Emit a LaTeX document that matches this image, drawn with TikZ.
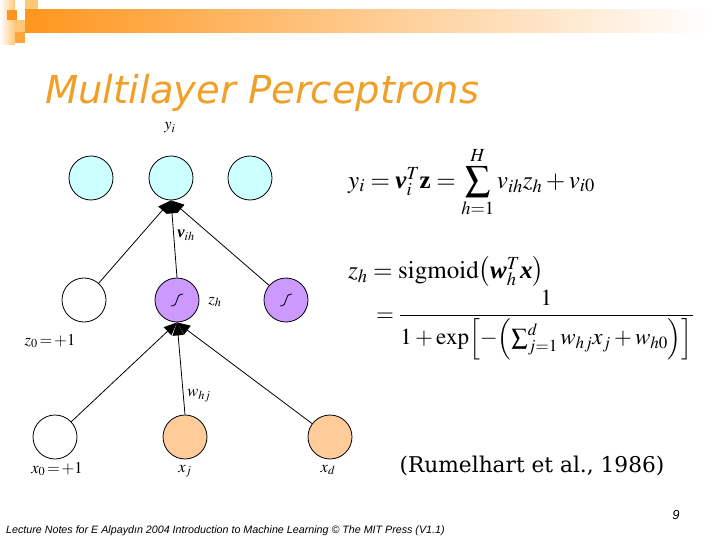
\documentclass[tikz,border=0pt]{standalone}
\usepackage{amsmath}
\usepackage{mathptmx}
\usepackage{fontspec}
\setmainfont{Liberation Serif}
\newfontfamily\titlefont{DejaVu Sans}
\newfontfamily\footfont{Liberation Sans}
\newfontfamily\citefont{DejaVu Serif}
\usetikzlibrary{arrows.meta}
\definecolor{hdrorange}{RGB}{255,150,30}
\definecolor{hdrlight}{RGB}{255,200,120}
\definecolor{titleorange}{RGB}{240,160,40}
\definecolor{outcol}{RGB}{204,255,255}
\definecolor{hidcol}{RGB}{204,153,255}
\definecolor{incol}{RGB}{255,204,153}
\newcommand{\bvec}[1]{\text{\bfseries\itshape #1}}
\newcommand{\bup}[1]{\text{\bfseries #1}}
\begin{document}
\begin{tikzpicture}[x=1pt,y=-1pt,
  unit/.style={circle,draw=black,line width=0.8pt,minimum size=44pt,inner sep=0pt},
  conn/.style={-{Triangle[length=13pt,width=11pt]},line width=0.8pt},
  lab/.style={font=\fontsize{16.5}{18}\selectfont,inner sep=0pt},
  eq/.style={font=\fontsize{25}{30}\selectfont,inner sep=0pt}]
\useasboundingbox (0,0) rectangle (720,540);
% header decoration
\shade[left color=white, right color=hdrlight] (0,0) rectangle (15,45);
\fill[hdrlight] (25,0) rectangle (38,10);
\shade[left color=hdrorange, right color=white] (25,10) rectangle (712,33);
\fill[hdrorange] (7,10) rectangle (17,20);
\fill[hdrlight] (15,20) rectangle (25,32);
\fill[hdrorange!85!white] (15,32) rectangle (25,43);
% title
\node[anchor=base west,inner sep=0pt,text=titleorange,font=\titlefont\itshape\fontsize{38.5}{44}\selectfont] (title) at (45,104) {Multilayer Perceptrons};
% units
\node[unit,fill=outcol] (o1) at (91,178) {};
\node[unit,fill=outcol] (o2) at (171,178) {};
\node[unit,fill=outcol] (o3) at (250,178) {};
\node[unit,fill=white] (h1) at (84,300) {};
\node[unit,fill=hidcol] (h2) at (177,300) {};
\node[unit,fill=hidcol] (h3) at (286,300) {};
\node[unit,fill=white] (i1) at (55,437) {};
\node[unit,fill=incol] (i2) at (185,437) {};
\node[unit,fill=incol] (i3) at (330,437) {};
% sigmoid glyphs
\foreach \n in {h2,h3}{
  \begin{scope}[shift={(\n.center)}]
    \draw[line width=0.8pt] (-6,6) .. controls (3,6) and (-3,-6) .. (6,-6);
  \end{scope}}
% connections
\draw[conn] (h1) -- (o2.south);
\draw[conn] (h2.north) -- (o2.south);
\draw[conn] (h3) -- (o2.south);
\draw[conn] (i1) -- (h2.south);
\draw[conn] (i2.north) -- (h2.south);
\draw[conn] (i3) -- (h2.south);
% labels
\node[lab] (ly) at (170,128) {$y_i$};
\node[lab] (lv) at (186,235) {$\bvec{v}_{ih}$};
\node[lab] (lz) at (215,302) {$z_h$};
\node[lab] (lz0) at (50,341) {$z_0\!=\!+1$};
\node[lab] (lw) at (199,396) {$w_{hj}$};
\node[lab] (lx0) at (57,469) {$x_0\!=\!+1$};
\node[lab] (lxj) at (185,471) {$x_j$};
\node[lab] (lxd) at (328,470) {$x_d$};
% equations
\node[eq,anchor=west] (eq1) at (348,182) {$y_i=\bvec{v}_i^T\bup{z}=\displaystyle\sum_{h=1}^{H}v_{ih}z_h+v_{i0}$};
\node[eq,anchor=west] (eq2) at (348,272) {$z_h=\mathrm{sigmoid}\bigl(\bvec{w}_h^T\bvec{x}\bigr)$};
\node[eq,anchor=west,font=\fontsize{23}{28}\selectfont] (eq3) at (376,325) {$=\dfrac{1}{1+\exp\Bigl[-\Bigl(\sum_{j=1}^{d}w_{hj}x_j+w_{h0}\Bigr)\Bigr]}$};
% citation
\node[inner sep=0pt,font=\citefont\fontsize{21.7}{26}\selectfont] (cite) at (532,466) {(Rumelhart et al., 1986)};
% footer
\node[anchor=base west,inner sep=0pt,font=\footfont\itshape\fontsize{10.7}{12}\selectfont] (foot) at (6,533) {Lecture Notes for E Alpaydın 2004 Introduction to Machine Learning © The MIT Press (V1.1)};
\node[inner sep=0pt,font=\footfont\itshape\fontsize{13}{15}\selectfont] (pg) at (676,515) {9};
\end{tikzpicture}
\end{document}
